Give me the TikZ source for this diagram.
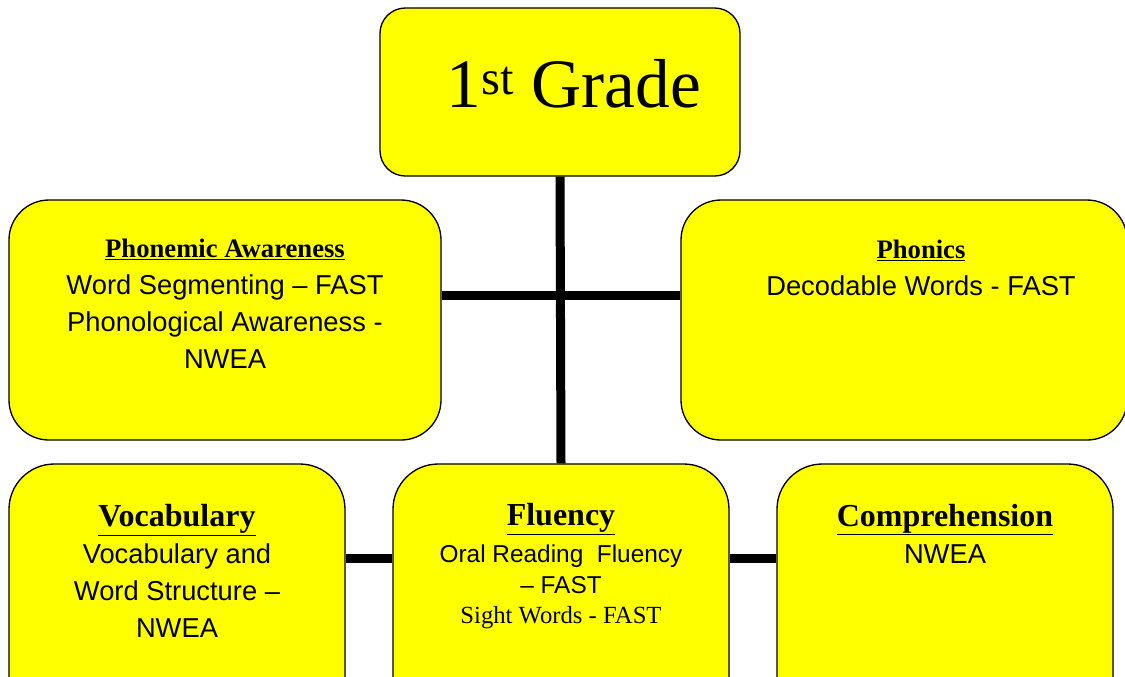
\documentclass[tikz,border=0pt]{standalone}
\usepackage{fontspec}
\setmainfont{Liberation Serif}
\newfontfamily\bodyfont{Liberation Sans}
\usepackage{tikz}
\usetikzlibrary{positioning, calc}
\definecolor{grade_yellow}{HTML}{FFFF00}
\colorlet{gradeyellow}{grade_yellow}
\tikzset{
  gradebox/.style={rectangle,draw=black,line width=1pt,fill=gradeyellow,rounded corners=19pt},
  strand/.style={gradebox,minimum height=180pt,rounded corners=30pt},
  strandlow/.style={gradebox,minimum width=252pt,minimum height=195pt,rounded corners=34pt},
  link/.style={line width=6.75pt,black},
  strandtext/.style={inner sep=0pt,align=center,anchor=base,font=\bodyfont\fontsize{20.5}{27.75}\selectfont},
}
\newcommand{\headsmall}[1]{{\rmfamily\bfseries\fontsize{20}{24}\selectfont\underline{#1}}}
\newcommand{\headbig}[1]{{\rmfamily\bfseries\fontsize{24}{28}\selectfont\underline{#1}}}

\begin{document}
\begin{tikzpicture}[x=0.75pt,y=-0.75pt]
	    \path[use as bounding box,clip] (0,0) rectangle (1125,676);
	    % boxes
	    \node[gradebox,minimum width=270pt,minimum height=126pt] (grade) at (560,92) {};
	    \node[strand,minimum width=324pt] (phonemic) at (225,320) {};
	    \node[strand,minimum width=334.5pt] (phonics) at (904,320) {};
	    \node[strandlow] (vocab) at (177,594) {};
	    \node[strandlow] (fluency) at (561,594) {};
	    \node[strandlow] (compr) at (945,594) {};
	    % links
	    \draw[link] (grade.south) -- (fluency.north);
	    \draw[link] ([yshift=18.75pt]phonemic.east) -- ([yshift=18.75pt]phonics.west);
	    \draw[link] ([yshift=27pt]vocab.east) -- ([yshift=27pt]fluency.west);
	    \draw[link] ([yshift=27pt]fluency.east) -- ([yshift=27pt]compr.west);
	    % texts (base = last line)
	    \node[inner sep=0pt,anchor=base,font=\fontsize{52}{60}\selectfont] (gradetxt) at (574,107) {1\textsuperscript{st} Grade};
	    \node[strandtext] (phonemictxt) at (225,368) {\headsmall{Phonemic Awareness}\\Word Segmenting – FAST\\Phonological Awareness -\\NWEA};
	    \node[strandtext] (phonicstxt) at (921,295) {\headsmall{Phonics}\\Decodable Words - FAST};
	    \node[strandtext] (vocabtxt) at (177,637) {\headbig{Vocabulary}\\Vocabulary and\\Word Structure –\\NWEA};
	    \node[strandtext,font=\bodyfont\fontsize{18.3}{23.25}\selectfont] (fluencytxt) at (561,593) {\headbig{Fluency}\\[4.5pt]Oral Reading\ \ Fluency\\– FAST};
	    \node[inner sep=0pt,anchor=base,font=\fontsize{18.5}{22}\selectfont] (sighttxt) at (561,623) {Sight Words - FAST};
	    \node[strandtext] (comprtxt) at (945,563) {\headbig{Comprehension}\\NWEA};
	\end{tikzpicture}
\end{document}
